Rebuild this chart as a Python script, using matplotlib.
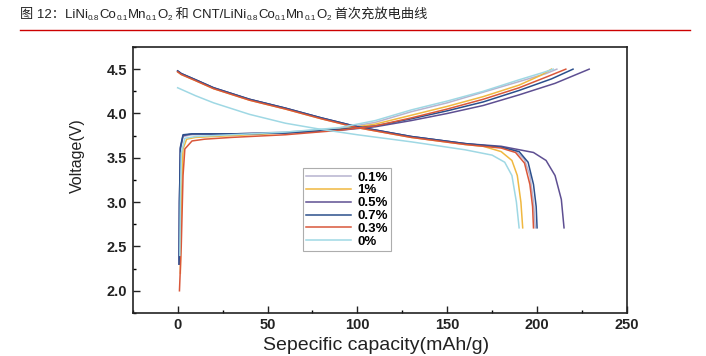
import matplotlib
matplotlib.use("Agg")
import matplotlib.pyplot as plt
import matplotlib.transforms as mtransforms
from matplotlib.ticker import MultipleLocator

# legend labels and colours (legend order)
labels = ["0.1%", "1%", "0.5%", "0.7%", "0.3%", "0%"]
colors = ["#b7b3cf", "#f0b840", "#5e4f92", "#2b4f8c", "#d9573a", "#9fd8e4"]

# charge curves (capacity mAh/g, voltage V)
charge_cap = {
    "0.1%": [0.8, 1.0, 1.5, 3, 8, 30, 60, 90, 110, 130, 150, 170, 190, 205, 211],
    "1%": [1.5, 2, 3, 5, 10, 30, 60, 90, 110, 130, 150, 170, 190, 202, 208],
    "0.5%": [0.8, 1, 1.5, 3, 8, 30, 60, 90, 110, 130, 150, 170, 190, 210, 229],
    "0.7%": [0.8, 1, 1.5, 3, 8, 30, 60, 90, 110, 130, 150, 170, 190, 208, 220],
    "0.3%": [1, 2, 3, 4, 8, 15, 30, 60, 90, 110, 130, 150, 170, 190, 205, 216],
    "0%": [1.2, 1.5, 2, 4, 10, 30, 60, 90, 110, 130, 150, 170, 190, 203, 209],
}
charge_v = {
    "0.1%": [2.35, 3.0, 3.6, 3.74, 3.76, 3.77, 3.79, 3.83, 3.90, 4.02, 4.12, 4.24, 4.36, 4.45, 4.50],
    "1%": [2.2, 3.0, 3.6, 3.71, 3.73, 3.75, 3.78, 3.82, 3.88, 3.98, 4.08, 4.19, 4.32, 4.43, 4.50],
    "0.5%": [2.3, 3.0, 3.6, 3.75, 3.77, 3.77, 3.78, 3.81, 3.85, 3.92, 4.00, 4.09, 4.21, 4.34, 4.50],
    "0.7%": [2.3, 3.0, 3.62, 3.76, 3.77, 3.77, 3.78, 3.82, 3.86, 3.94, 4.03, 4.13, 4.26, 4.39, 4.50],
    "0.3%": [2.0, 2.5, 3.3, 3.6, 3.69, 3.71, 3.73, 3.76, 3.81, 3.86, 3.95, 4.05, 4.16, 4.29, 4.41, 4.50],
    "0%": [2.4, 3.0, 3.55, 3.72, 3.74, 3.76, 3.79, 3.84, 3.92, 4.04, 4.14, 4.25, 4.38, 4.46, 4.50],
}

# discharge curves
discharge_cap = {
    "0.1%": [0, 2, 10, 20, 40, 60, 80, 100, 130, 160, 180, 188, 193, 196, 198, 199],
    "1%": [0, 2, 10, 20, 40, 60, 80, 100, 130, 160, 170, 180, 186, 189, 191, 192],
    "0.5%": [0, 2, 10, 20, 40, 60, 80, 100, 130, 160, 180, 198, 205, 210, 213.5, 215],
    "0.7%": [0, 2, 10, 20, 40, 60, 80, 100, 130, 160, 180, 190, 195, 198, 199.5, 200],
    "0.3%": [0, 2, 10, 20, 40, 60, 80, 100, 130, 160, 180, 188, 193, 196, 197.5, 198],
    "0%": [0, 10, 20, 40, 60, 80, 100, 130, 160, 175, 182, 186, 188.5, 190],
}
discharge_v = {
    "0.1%": [4.48, 4.45, 4.38, 4.29, 4.16, 4.06, 3.95, 3.85, 3.74, 3.66, 3.62, 3.58, 3.48, 3.30, 3.00, 2.71],
    "1%": [4.47, 4.44, 4.37, 4.28, 4.15, 4.05, 3.94, 3.84, 3.73, 3.65, 3.63, 3.57, 3.47, 3.30, 3.00, 2.71],
    "0.5%": [4.48, 4.45, 4.38, 4.29, 4.16, 4.06, 3.95, 3.85, 3.74, 3.66, 3.63, 3.56, 3.47, 3.30, 3.03, 2.71],
    "0.7%": [4.48, 4.45, 4.38, 4.29, 4.16, 4.06, 3.95, 3.85, 3.74, 3.66, 3.62, 3.57, 3.45, 3.20, 2.95, 2.71],
    "0.3%": [4.47, 4.44, 4.37, 4.28, 4.15, 4.05, 3.94, 3.84, 3.73, 3.65, 3.61, 3.56, 3.44, 3.20, 2.95, 2.71],
    "0%": [4.29, 4.20, 4.12, 3.99, 3.89, 3.82, 3.76, 3.68, 3.59, 3.53, 3.45, 3.30, 3.00, 2.71],
}

title_parts = [
    ("图 12：LiNi", False), ("0.8", True), ("Co", False), ("0.1", True), ("Mn", False),
    ("0.1", True), ("O", False), ("2", True), (" 和 CNT/LiNi", False), ("0.8", True),
    ("Co", False), ("0.1", True), ("Mn", False), ("0.1", True), ("O", False), ("2", True),
    (" 首次充放电曲线", False),
]

FONT = ["Liberation Sans", "Noto Sans CJK SC", "DejaVu Sans"]
plt.rcParams["font.family"] = FONT


def draw_title(fig, x, y, parts, size):
    # write text piece by piece so the subscripts can sit lower and smaller
    renderer = fig.canvas.get_renderer()
    ident = mtransforms.IdentityTransform()
    for txt, sub in parts:
        fs = size * 0.62 if sub else size
        dy = -2.5 if sub else 0
        t = fig.text(x, y + dy, txt, fontsize=fs, transform=ident, va="baseline",
                     color="#222222", family=FONT)
        x += t.get_window_extent(renderer).width


fig = plt.figure(figsize=(7.06, 3.56), dpi=100)
ax = fig.add_axes([0.188, 0.121, 0.700, 0.747])

for lab, col in zip(labels, colors):
    ax.plot(charge_cap[lab], charge_v[lab], color=col, lw=1.1, label=lab)
    ax.plot(discharge_cap[lab], discharge_v[lab], color=col, lw=1.1)

ax.set_xlim(-25, 250)
ax.set_ylim(1.75, 4.75)
ax.xaxis.set_major_locator(MultipleLocator(50))
ax.xaxis.set_minor_locator(MultipleLocator(25))
ax.yaxis.set_major_locator(MultipleLocator(0.5))
ax.yaxis.set_minor_locator(MultipleLocator(0.25))
ax.tick_params(which="major", direction="in", length=5, width=1, labelsize=10.5,
               colors="#222222", pad=4)
ax.tick_params(which="minor", direction="in", length=2.5, width=1)
ax.yaxis.set_major_formatter(plt.FormatStrFormatter("%.1f"))
for lbl in ax.get_xticklabels() + ax.get_yticklabels():
    lbl.set_fontweight("bold")
for s in ax.spines.values():
    s.set_linewidth(1.2)
    s.set_color("#222222")

ax.set_xlabel("Sepecific capacity(mAh/g)", fontsize=14, color="#222222")
ax.xaxis.set_label_coords(0.493, -0.09)
ax.set_ylabel("Voltage(V)", fontsize=11.5, color="#222222")
ax.yaxis.set_label_coords(-0.097, 0.592)

leg = ax.legend(loc="upper left", bbox_to_anchor=(0.344, 0.545),
                prop={"size": 9.5, "weight": "bold"},
                frameon=True, fancybox=False, edgecolor="#999999", handlelength=3.4,
                labelspacing=0.05, borderpad=0.25, handletextpad=0.5, borderaxespad=0)
leg.get_frame().set_linewidth(0.8)

# title and red underline
draw_title(fig, 20, 356 - 18, title_parts, 9.5)
fig.add_artist(plt.Line2D([20 / 706, 690 / 706], [1 - 30 / 356, 1 - 30 / 356],
                          color="#cc0000", lw=1.0, transform=fig.transFigure))

fig.savefig("out.png", dpi=100)
